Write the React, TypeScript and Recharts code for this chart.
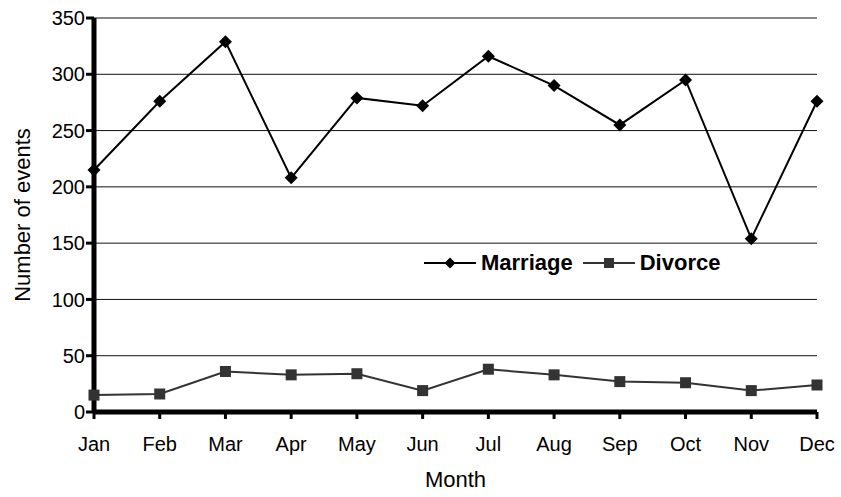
import React from "react";
import { LineChart, Line, XAxis, YAxis, CartesianGrid, Legend } from "recharts";

const months = ["Jan", "Feb", "Mar", "Apr", "May", "Jun", "Jul", "Aug", "Sep", "Oct", "Nov", "Dec"];
const marriage = [215, 276, 329, 208, 279, 272, 316, 290, 255, 295, 154, 276];
const divorce = [15, 16, 36, 33, 34, 19, 38, 33, 27, 26, 19, 24];
const yTicks = [0, 50, 100, 150, 200, 250, 300, 350];
const seriesOrder = ["Marriage", "Divorce"];

const data = months.map((m, i) => ({ month: m, Marriage: marriage[i], Divorce: divorce[i] }));

const FONT = "'Liberation Sans', Arial, sans-serif";
const DIVORCE_COLOR = "#333333";

// thick Excel-style axes
const axisCss = `
.recharts-cartesian-axis-line { stroke: #000; stroke-width: 5px; }
.recharts-cartesian-axis-tick-line { stroke: #000; stroke-width: 3px; }
`;

function Diamond({ cx, cy, r = 6, fill = "#000" }: any) {
  if (cx == null || cy == null) return null;
  return <path d={`M${cx},${cy - r}L${cx + r},${cy}L${cx},${cy + r}L${cx - r},${cy}Z`} fill={fill} />;
}

function Square({ cx, cy, r = 5.5, fill = DIVORCE_COLOR }: any) {
  if (cx == null || cy == null) return null;
  return <rect x={cx - r} y={cy - r} width={r * 2} height={r * 2} fill={fill} />;
}

function LegendContent({ payload }: any) {
  const items = [...(payload || [])].sort(
    (a: any, b: any) => seriesOrder.indexOf(a.value) - seriesOrder.indexOf(b.value)
  );
  return (
    <div style={{ display: "flex", alignItems: "center", fontFamily: FONT, fontWeight: "bold", fontSize: 22, lineHeight: "24px", color: "#000" }}>
      {items.map((p: any, i: number) => (
        <div key={p.value} style={{ display: "flex", alignItems: "center", marginLeft: i === 0 ? 0 : 10 }}>
          <svg width={52} height={24}>
            <line x1={0} y1={12} x2={52} y2={12} stroke={p.color} strokeWidth={2} />
            {p.value === "Marriage" ? <Diamond cx={26} cy={12} r={5.5} /> : <Square cx={26} cy={12} r={5} />}
          </svg>
          <span style={{ marginLeft: 5 }}>{p.value}</span>
        </div>
      ))}
    </div>
  );
}

export default function App() {
  return (
    <div style={{ position: "absolute", left: 0, top: 0, background: "#fff" }}>
      <style>{axisCss}</style>
      <LineChart width={841} height={497} data={data} margin={{ top: 18, right: 24, left: 0, bottom: 0 }}>
        <CartesianGrid horizontal vertical={false} stroke="#111" strokeWidth={1} />
        <XAxis
          dataKey="month"
          height={85}
          padding={{ left: 0, right: 0 }}
          interval={0}
          tickSize={7}
          tickMargin={18}
          stroke="#000"
          tick={{ fontSize: 20, fill: "#000", fontFamily: FONT }}
          label={{ value: "Month", position: "insideBottom", offset: 10, fontSize: 22, fill: "#000", fontFamily: FONT }}
        />
        <YAxis
          width={94}
          domain={[0, 350]}
          ticks={yTicks}
          interval={0}
          tickSize={8}
          tickMargin={1}
          stroke="#000"
          tick={{ fontSize: 20, fill: "#000", fontFamily: FONT }}
          label={{
            value: "Number of events",
            angle: -90,
            position: "insideLeft",
            offset: 22,
            fontSize: 22,
            fill: "#000",
            fontFamily: FONT,
            style: { textAnchor: "middle" },
          }}
        />
        <Legend
          layout="horizontal"
          verticalAlign="middle"
          align="center"
          wrapperStyle={{ left: 424, top: 251, width: "auto" }}
          content={<LegendContent />}
        />
        <Line
          dataKey="Marriage"
          stroke="#000"
          strokeWidth={2}
          isAnimationActive={false}
          dot={(p: any) => <Diamond key={`m-${p.index}`} cx={p.cx} cy={p.cy} r={6.5} />}
          activeDot={false}
        />
        <Line
          dataKey="Divorce"
          stroke={DIVORCE_COLOR}
          strokeWidth={2}
          isAnimationActive={false}
          dot={(p: any) => <Square key={`d-${p.index}`} cx={p.cx} cy={p.cy} r={5.5} />}
          activeDot={false}
        />
      </LineChart>
    </div>
  );
}
